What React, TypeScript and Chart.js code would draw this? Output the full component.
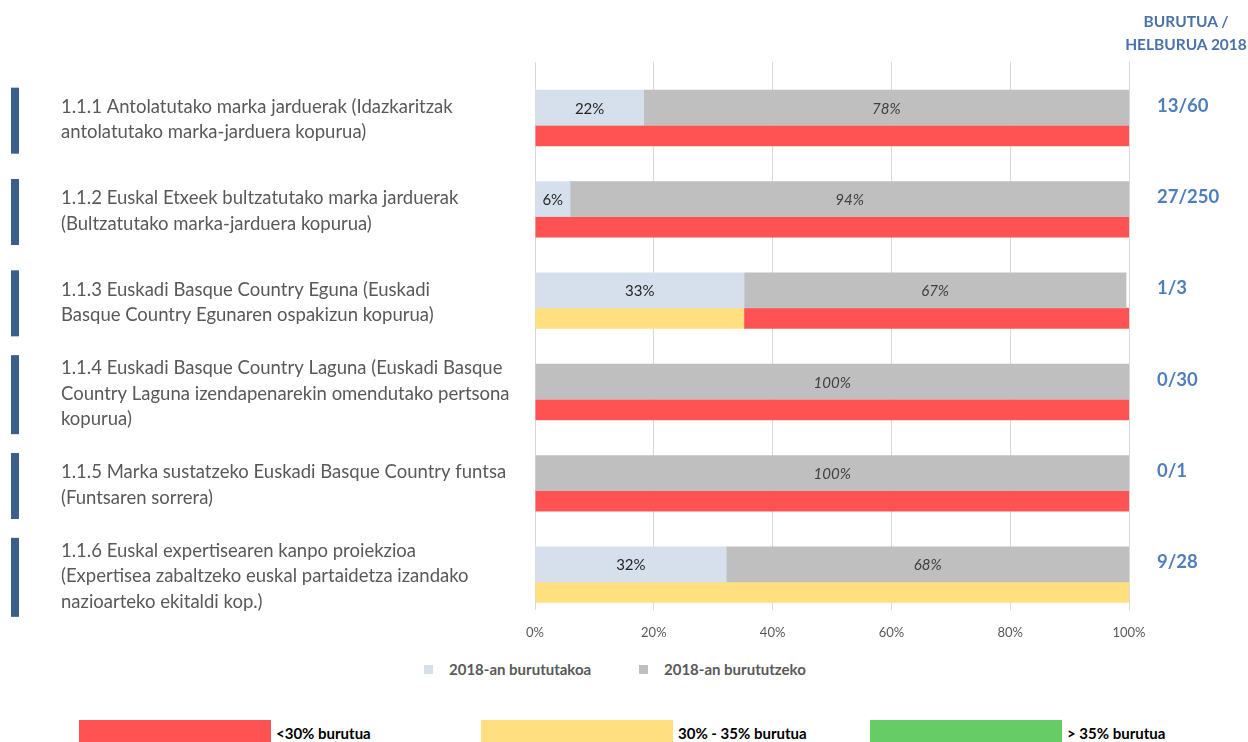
import React, { useEffect, useRef } from 'react';
import { Chart, registerables } from 'chart.js';

Chart.register(...registerables);

// ---- data ----
const categories: string[][] = [
  ['1.1.1 Antolatutako marka jarduerak (Idazkaritzak', 'antolatutako marka-jarduera kopurua)'],
  ['1.1.2 Euskal Etxeek bultzatutako marka jarduerak', '(Bultzatutako marka-jarduera kopurua)'],
  ['1.1.3 Euskadi Basque Country Eguna (Euskadi', 'Basque Country Egunaren ospakizun kopurua)'],
  ['1.1.4 Euskadi Basque Country Laguna (Euskadi Basque', 'Country Laguna izendapenarekin omendutako pertsona', 'kopurua)'],
  ['1.1.5 Marka sustatzeko Euskadi Basque Country funtsa', '(Funtsaren sorrera)'],
  ['1.1.6 Euskal expertisearen kanpo proiekzioa', '(Expertisea zabaltzeko euskal partaidetza izandako', 'nazioarteko ekitaldi kop.)'],
];
const ratios = ['13/60', '27/250', '1/3', '0/30', '0/1', '9/28'];
const doneValues = [18.3, 5.9, 35.2, 0, 0, 32.2];
const todoValues = [81.7, 94.1, 64.3, 100, 100, 67.8];
const doneLabels = ['22%', '6%', '33%', '', '', '32%'];
const todoLabels = ['78%', '94%', '67%', '100%', '100%', '68%'];
const yellowValues = [0, 0, 35.2, 0, 0, 100];
const redValues = [100, 100, 64.8, 100, 100, 0];
const xTicks = [0, 20, 40, 60, 80, 100];

// ---- styles ----
const C_DONE = '#d6dfec';
const C_TODO = '#bfbfbf';
const C_RED = '#ff5353';
const C_YELLOW = '#ffdf80';
const C_GREEN = '#66cc66';
const C_SIDE = '#3b5e8b';
const C_BLUE_TXT = '#4f7fba';
const FONT = 'Lato';
const STATUS_SHIFT = 0.307; // category units the status bar sits below the progress bar

const barLabelPlugin = {
  id: 'barLabels',
  afterDatasetsDraw(chart: any) {
    const ctx = chart.ctx;
    const sets: [number, string[], string, string][] = [
      [0, doneLabels, 'normal', '#262626'],
      [1, todoLabels, 'italic', '#404040'],
    ];
    sets.forEach(([di, labels, style, color]) => {
      const meta = chart.getDatasetMeta(di);
      meta.data.forEach((bar: any, i: number) => {
        const t = labels[i];
        if (!t) return;
        const p = bar.getProps(['x', 'base', 'y'], true);
        ctx.save();
        ctx.font = `${style} 15px ${FONT}`;
        ctx.fillStyle = color;
        ctx.textAlign = 'center';
        ctx.textBaseline = 'middle';
        ctx.fillText(t, (p.x + p.base) / 2, p.y + 1);
        ctx.restore();
      });
    });
  },
};

const sideBarPlugin = {
  id: 'sideBars',
  afterDraw(chart: any) {
    const ctx = chart.ctx;
    const y = chart.scales.y;
    ctx.save();
    ctx.fillStyle = C_SIDE;
    categories.forEach((lines, i) => {
      const c = y.getPixelForValue(i) + 13;
      const h = 40 + lines.length * 13;
      ctx.fillRect(11, c - h / 2, 8, h);
    });
    ctx.restore();
  },
};

function ChartCanvas() {
  const ref = useRef<HTMLCanvasElement | null>(null);
  useEffect(() => {
    if (!ref.current) return;
    const n = categories.length;
    const chart = new Chart(ref.current, {
      type: 'bar',
      data: {
        labels: categories,
        datasets: [
          {
            label: '2018-an burututakoa', data: doneValues, backgroundColor: C_DONE,
            xAxisID: 'x', yAxisID: 'y', stack: 'a', grouped: false, barThickness: 35,
          },
          {
            label: '2018-an burututzeko', data: todoValues, backgroundColor: C_TODO,
            xAxisID: 'x', yAxisID: 'y', stack: 'a', grouped: false, barThickness: 35,
          },
          {
            label: '30% - 35% burutua', data: yellowValues.map((v, i) => ({ x: v, y: i })), backgroundColor: C_YELLOW,
            xAxisID: 'x', yAxisID: 'yb', stack: 'b', grouped: false, barThickness: 21, inflateAmount: 0,
          },
          {
            label: '<30% burutua', data: redValues.map((v, i) => ({ x: v, y: i })), backgroundColor: C_RED,
            xAxisID: 'x', yAxisID: 'yb', stack: 'b', grouped: false, barThickness: 21, inflateAmount: 0,
          },
        ] as any,
      },
      options: {
        indexAxis: 'y',
        animation: false,
        responsive: false,
        devicePixelRatio: 1,
        layout: { padding: { left: 61, top: 62, right: 0, bottom: 0 } },
        plugins: { legend: { display: false }, tooltip: { enabled: false } },
        scales: {
          x: {
            type: 'linear', position: 'bottom', min: 0, max: 100, stacked: true,
            afterBuildTicks: (s: any) => { s.ticks = xTicks.map((v) => ({ value: v })); },
            grid: { color: '#d9d9d9', drawTicks: false },
            border: { display: false },
            ticks: { callback: (v: any) => v + '%', font: { family: FONT, size: 13 }, color: '#595959', padding: 15 },
            afterFit: (s: any) => { s.height = 40; },
          },
          y: {
            type: 'category', position: 'left', offset: true,
            grid: { display: false, drawTicks: false },
            border: { display: false },
            ticks: {
              crossAlign: 'far', autoSkip: false, labelOffset: 12, padding: 0,
              font: { family: FONT, size: 18.5, lineHeight: 1.38 }, color: '#595959',
            },
            afterFit: (s: any) => { s.width = 474; },
          },
          yb: {
            type: 'linear', display: false, offset: false, reverse: true,
            min: -0.5 - STATUS_SHIFT, max: n - 0.5 - STATUS_SHIFT,
          },
          yr: {
            type: 'category', position: 'right', offset: true, labels: ratios,
            grid: { display: false, drawTicks: false },
            border: { display: false },
            ticks: {
              crossAlign: 'near', autoSkip: false, labelOffset: -2, padding: 28,
              font: { family: FONT, size: 18.5, weight: 'bold' }, color: C_BLUE_TXT,
            },
            afterFit: (s: any) => { s.width = 119; },
          },
        } as any,
      },
      plugins: [barLabelPlugin, sideBarPlugin],
    });
    return () => chart.destroy();
  }, []);
  return <canvas ref={ref} width={1248} height={650} style={{ display: 'block' }} />;
}

const legendItems = [
  { text: '2018-an burututakoa', color: C_DONE, left: 424 },
  { text: '2018-an burututzeko', color: C_TODO, left: 639 },
];
const statusItems = [
  { text: '<30% burutua', color: C_RED, left: 79, width: 192 },
  { text: '30% - 35% burutua', color: C_YELLOW, left: 481, width: 192 },
  { text: '> 35% burutua', color: C_GREEN, left: 870, width: 192 },
];

export default function App() {
  return (
    <div style={{ position: 'absolute', left: 0, top: 0, width: 1248, height: 742, background: '#fff', overflow: 'hidden', fontFamily: FONT }}>
      <ChartCanvas />
      <div style={{ position: 'absolute', left: 1106, top: 10, width: 160, textAlign: 'center', color: '#4a72aa', fontWeight: 700, fontSize: 15.5, lineHeight: '23px' }}>
        BURUTUA /<br />HELBURUA 2018
      </div>
      {legendItems.map((it) => (
        <div key={it.text} style={{ position: 'absolute', left: it.left, top: 659, height: 20, display: 'flex', alignItems: 'center' }}>
          <div style={{ width: 9, height: 9, background: it.color, marginRight: 16 }} />
          <span style={{ color: '#595959', fontWeight: 700, fontSize: 15 }}>{it.text}</span>
        </div>
      ))}
      {statusItems.map((it) => (
        <div key={it.text} style={{ position: 'absolute', left: it.left, top: 720, height: 22, display: 'flex', alignItems: 'flex-end' }}>
          <div style={{ width: it.width, height: 22, background: it.color, marginRight: 5 }} />
          <span style={{ color: '#000', fontWeight: 700, fontSize: 15, lineHeight: '17px' }}>{it.text}</span>
        </div>
      ))}
    </div>
  );
}
